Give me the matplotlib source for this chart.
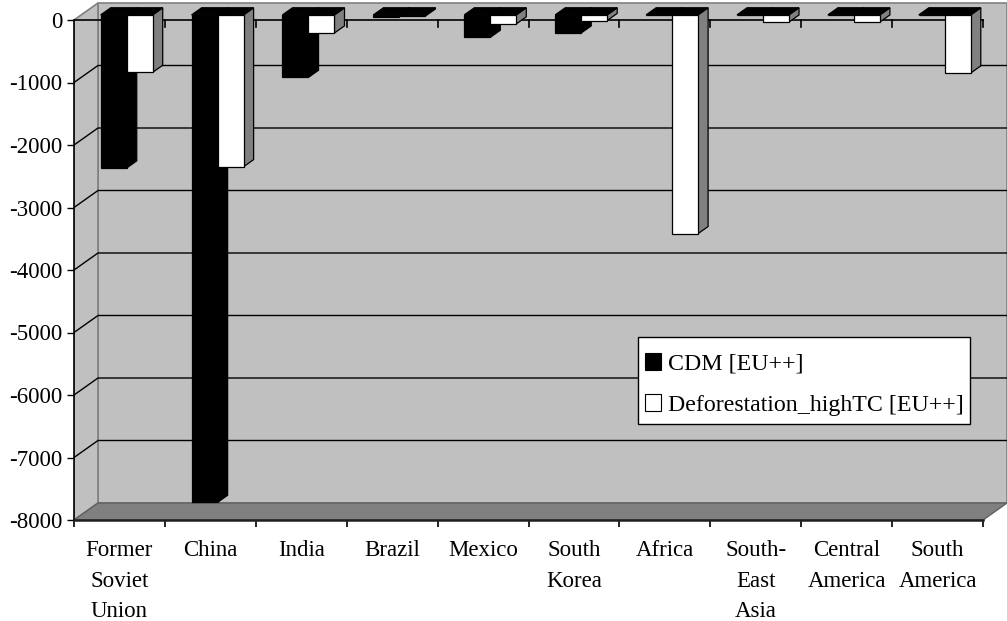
import matplotlib
matplotlib.use("Agg")
import matplotlib.pyplot as plt
from matplotlib.patches import Polygon, Patch, Rectangle

# Regions and emission values (Mt CO2-eq)
categories = ["Former\nSoviet\nUnion", "China", "India", "Brazil", "Mexico",
              "South\nKorea", "Africa", "South-\nEast\nAsia", "Central\nAmerica",
              "South\nAmerica"]
cdm_values = [-2450, -7800, -1000, -30, -360, -290, 0, 0, 0, 0]
deforestation_values = [-920, -2430, -290, -20, -145, -90, -3500, -115, -115, -930]
series_labels = ["CDM [EU++]", "Deforestation_highTC [EU++]"]
y_ticks = [0, -1000, -2000, -3000, -4000, -5000, -6000, -7000, -8000]

plt.rcParams["font.family"] = ["Liberation Serif", "DejaVu Serif"]
FS = 16.5

W_PX, H_PX = 1007, 621
fig = plt.figure(figsize=(W_PX / 100, H_PX / 100), dpi=100)
fig.patch.set_facecolor("white")

# pixel geometry of the pseudo-3D box
left_px, right_front_px = 74, 983
zero_px, floor_px = 20, 520
n = len(categories)
px_per_cat = (right_front_px - left_px) / n
px_per_val = (floor_px - zero_px) / 8000.0

ymin_val, ymax_val = -8000, 0
ax = fig.add_axes([left_px / W_PX, 0, 1 - left_px / W_PX, 1])
ax.set_xlim(0, (W_PX - left_px) / px_per_cat)
ax.set_ylim(ymin_val - (H_PX - floor_px) / px_per_val, zero_px / px_per_val)
ax.patch.set_alpha(0)

# depth vector (full depth of the box) in data units
Dx = 24 / px_per_cat
Dy = 17 / px_per_val

wall_face = "#C0C0C0"
wall_edge = "#808080"

# back wall
ax.add_patch(Polygon([(Dx, ymin_val + Dy), (n + Dx, ymin_val + Dy),
                      (n + Dx, ymax_val + Dy), (Dx, ymax_val + Dy)],
                     closed=True, facecolor=wall_face, edgecolor=wall_edge,
                     lw=1.2, zorder=1))
# side wall
ax.add_patch(Polygon([(0, ymin_val), (Dx, ymin_val + Dy), (Dx, ymax_val + Dy),
                      (0, ymax_val)],
                     closed=True, facecolor=wall_face, edgecolor=wall_edge,
                     lw=1.2, zorder=1))
# floor
ax.add_patch(Polygon([(0, ymin_val), (n, ymin_val), (n + Dx, ymin_val + Dy),
                      (Dx, ymin_val + Dy)],
                     closed=True, facecolor="#808080", edgecolor="#606060",
                     lw=1.0, zorder=1))

# gridlines on the walls
for v in y_ticks[1:-1]:
    ax.plot([0, Dx, n + Dx], [v, v + Dy, v + Dy], color="black", lw=1.0,
            zorder=2, solid_capstyle="butt")

# category axis line at zero with tick marks
tick_val = 7 / px_per_val
ax.plot([0, n], [0, 0], color="black", lw=1.2, zorder=3)
for b in range(1, n + 1):
    ax.plot([b, b], [0, -tick_val], color="black", lw=1.2, zorder=3)

# 3D columns
w = 1 / 3.5
f0, f1 = 0.30, 0.72
styles = [
    dict(front="black", side="black", top="black"),
    dict(front="white", side="#808080", top="black"),
]
z = 4
for i in range(n):
    for s, vals in enumerate([cdm_values, deforestation_values]):
        v = vals[i]
        st = styles[s]
        x0 = i + 0.5 - w + s * w
        x1 = x0 + w
        ax0, ax1 = x0 + f0 * Dx, x1 + f0 * Dx
        bx1 = x1 + f1 * Dx
        bx0 = x0 + f1 * Dx
        y0, y1 = f0 * Dy, f1 * Dy
        side = Polygon([(ax1, y0), (bx1, y1), (bx1, v + y1), (ax1, v + y0)],
                       closed=True, facecolor=st["side"], edgecolor="black",
                       lw=0.9, zorder=z)
        top = Polygon([(ax0, y0), (ax1, y0), (bx1, y1), (bx0, y1)],
                      closed=True, facecolor=st["top"], edgecolor="black",
                      lw=0.9, zorder=z)
        front = Polygon([(ax0, y0), (ax1, y0), (ax1, v + y0), (ax0, v + y0)],
                        closed=True, facecolor=st["front"], edgecolor="black",
                        lw=0.9, zorder=z + 0.5)
        for p in (side, top, front):
            ax.add_patch(p)
        z += 1

# value axis
for sp in ("top", "right"):
    ax.spines[sp].set_visible(False)
ax.spines["left"].set_position(("data", 0))
ax.spines["left"].set_bounds(ymin_val, ymax_val)
ax.spines["left"].set_linewidth(1.2)
ax.spines["left"].set_zorder(3)
ax.set_yticks(y_ticks)
ax.set_yticklabels([str(t) for t in y_ticks])
ax.tick_params(axis="y", length=5, width=1.0, pad=3.5, labelsize=FS)

# category axis along the front edge of the floor
ax.spines["bottom"].set_position(("data", ymin_val))
ax.spines["bottom"].set_bounds(0, n)
ax.spines["bottom"].set_linewidth(1.8)
ax.spines["bottom"].set_color("#202020")
ax.spines["bottom"].set_zorder(3)
ax.set_xticks([i + 0.5 for i in range(n)])
ax.set_xticklabels(categories, linespacing=1.6)
ax.set_xticks(range(n + 1), minor=True)
ax.tick_params(axis="x", which="major", length=0, pad=14.5, labelsize=FS)
ax.tick_params(axis="x", which="minor", length=5, width=1.2)

# legend: framed box with entries inside
frame = Rectangle((638 / W_PX, 1 - 424 / H_PX), (970 - 638) / W_PX,
                  (424 - 337) / H_PX, transform=fig.transFigure,
                  facecolor="white", edgecolor="black", lw=1.0,
                  zorder=19, clip_on=False)
ax.add_artist(frame)
handles = [Patch(facecolor="black", edgecolor="black", lw=0.8),
           Patch(facecolor="white", edgecolor="black", lw=0.8)]
leg = ax.legend(handles, series_labels, loc="center left",
                bbox_to_anchor=(645 / W_PX, 1 - 384.5 / H_PX),
                bbox_transform=fig.transFigure, borderaxespad=0,
                frameon=False, fontsize=17.2,
                handlelength=0.68, handleheight=0.68, handletextpad=0.3,
                labelspacing=0.82, borderpad=0)
leg.set_zorder(20)

fig.savefig("out.png", dpi=100)
